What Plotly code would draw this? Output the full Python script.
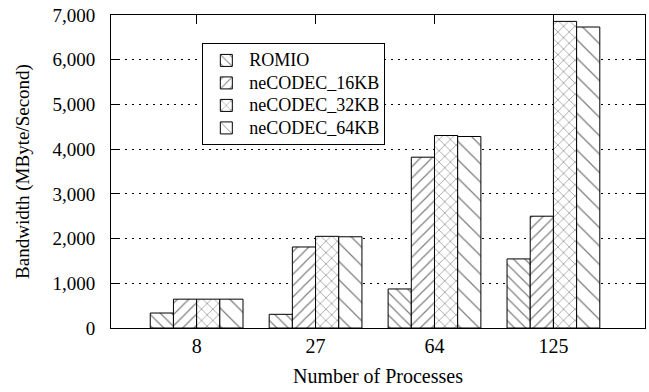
import plotly.graph_objects as go

categories = ["8", "27", "64", "125"]
series_names = ["ROMIO", "neCODEC_16KB", "neCODEC_32KB", "neCODEC_64KB"]
romio = [335, 306, 873, 1545]
necodec_16kb = [645, 1812, 3820, 2500]
necodec_32kb = [645, 2050, 4305, 6857]
necodec_64kb = [645, 2040, 4283, 6731]
y_ticks = [0, 1000, 2000, 3000, 4000, 5000, 6000, 7000]

values = [romio, necodec_16kb, necodec_32kb, necodec_64kb]
patterns = [dict(shape="\\", size=8, solidity=0.15),
            dict(shape="/", size=8, solidity=0.15),
            dict(shape="x", size=8, solidity=0.15),
            dict(shape="\\", size=13, solidity=0.1)]

font = "Liberation Serif"
fig = go.Figure()
for name, vals, pat in zip(series_names, values, patterns):
    fig.add_trace(go.Bar(
        x=categories, y=vals,
        name='<span style="font-size:18px">' + name + '</span>',
        marker=dict(color="white", line=dict(color="black", width=1),
                    pattern=dict(shape=pat["shape"], size=pat["size"], solidity=pat["solidity"],
                                 fgcolor="black", bgcolor="white", fillmode="overlay")),
    ))

fig.update_layout(
    width=649, height=392,
    margin=dict(l=111, r=4, t=15, b=64),
    paper_bgcolor="white", plot_bgcolor="white",
    barmode="group", bargap=0.22, bargroupgap=0,
    font=dict(family=font, size=19, color="black"),
    showlegend=True,
    legend=dict(x=0.171, y=0.91, xanchor="left", yanchor="top",
                bordercolor="black", borderwidth=1, bgcolor="white",
                font=dict(family=font, size=15), tracegroupgap=0, itemwidth=36),
    xaxis=dict(type="category", range=[-0.72, 3.77], showline=True, linecolor="black",
               linewidth=1, mirror="ticks", ticks="inside", ticklen=9, tickcolor="black",
               ticklabelstandoff=0, showgrid=False, automargin=False,
               tickfont=dict(size=20),
               title=dict(text="Number of Processes", standoff=12, font=dict(size=20))),
    yaxis=dict(range=[0, 7000], tickvals=y_ticks, tickformat=",d", showline=True,
               linecolor="black", linewidth=1, mirror="ticks", ticks="inside", ticklen=9,
               tickcolor="black", ticklabelstandoff=11, automargin=False,
               tickfont=dict(size=19),
               showgrid=True, gridcolor="black", gridwidth=1, griddash="2px,5px",
               zeroline=False,
               title=dict(text="Bandwidth (MByte/Second)", standoff=17, font=dict(size=19))),
)

fig.write_html("out.html", config={"displayModeBar": False},
               post_script="document.body.style.margin='0';")
